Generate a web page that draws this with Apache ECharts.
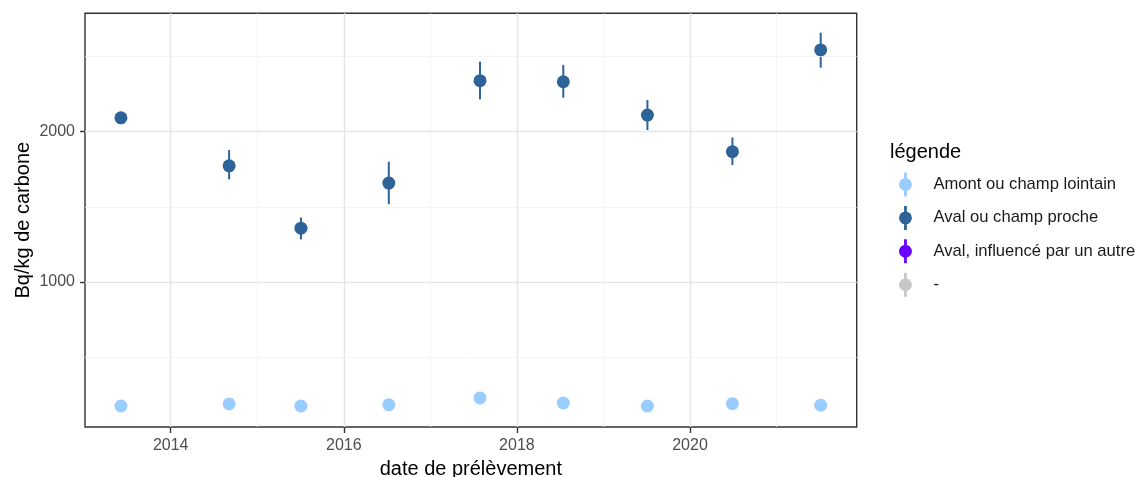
<!DOCTYPE html>
<html>
<head>
<meta charset="utf-8">
<script src="https://cdn.jsdelivr.net/npm/echarts@6/dist/echarts.min.js"></script>
<style>
html,body{margin:0;padding:0;background:#fff;}
#chart{width:1145px;height:477px;}
</style>
</head>
<body>
<div id="chart"></div>
<script>
// ---- data ----
const seriesNames = ['Amont ou champ lointain', 'Aval ou champ proche', 'Aval, influencé par un autre', '-'];
const seriesColors = ['#99ccff', '#2e6399', '#6600ff', '#c8c8c8'];
const sampleDates = [2013.425, 2014.675, 2015.505, 2016.52, 2017.574, 2018.536, 2019.508, 2020.49, 2021.51];
const amontValues = [173, 187, 173, 182, 227, 193, 173, 189, 178];
const avalValues  = [2093, 1773, 1358, 1658, 2340, 2333, 2111, 1867, 2545];
const avalLow     = [2063, 1683, 1283, 1518, 2216, 2227, 2011, 1778, 2427];
const avalHigh    = [2123, 1878, 1429, 1800, 2467, 2445, 2211, 1962, 2660];
const xMajorTicks = [2014, 2016, 2018, 2020];
const xMinorTicks = [2015, 2017, 2019, 2021];
const yMajorTicks = [1000, 2000];
const yMinorTicks = [500, 1500, 2500];

const FONT = '"Liberation Sans", Arial, sans-serif';
const keyIcon = 'path://M5.5,0 h3 v26 h-3 Z M0,13 a7,7 0 1,1 14,0 a7,7 0 1,1 -14,0 Z';

const amontData = sampleDates.map((d, i) => [d, amontValues[i]]);
const avalData = sampleDates.map((d, i) => [d, avalValues[i]]);
const avalErr = sampleDates.map((d, i) => [d, avalLow[i], avalHigh[i]]);

const majorLine = {color: '#e6e6e6', width: 1.4, type: 'solid'};
const minorLine = {color: '#f1f1f1', width: 0.8, type: 'solid'};
const gridLines = []
  .concat(xMinorTicks.map(v => ({xAxis: v, lineStyle: minorLine})))
  .concat(yMinorTicks.map(v => ({yAxis: v, lineStyle: minorLine})))
  .concat(xMajorTicks.map(v => ({xAxis: v, lineStyle: majorLine})))
  .concat(yMajorTicks.map(v => ({yAxis: v, lineStyle: majorLine})));

const chart = echarts.init(document.getElementById('chart'), null, {renderer: 'canvas'});
chart.setOption({
  animation: false,
  backgroundColor: '#ffffff',
  textStyle: {fontFamily: FONT},
  title: {
    text: 'légende', left: 885, top: 137,
    textStyle: {fontFamily: FONT, fontSize: 20, fontWeight: 'normal', color: '#000000'}
  },
  legend: {
    orient: 'vertical', left: 894, top: 167.5,
    itemWidth: 46, itemHeight: 24, itemGap: 9.4,
    selectedMode: false,
    textStyle: {fontFamily: FONT, fontSize: 16.6, color: '#1a1a1a'},
    data: seriesNames.map(n => ({name: n, icon: keyIcon}))
  },
  grid: {
    left: 85, top: 13.3, right: 288.3, bottom: 50,
    outerBoundsMode: 'none', containLabel: false,
    show: true, borderColor: '#333333', borderWidth: 1.4, backgroundColor: '#ffffff'
  },
  xAxis: {
    type: 'value', min: 2013.01, max: 2021.926,
    name: 'date de prélèvement', nameLocation: 'middle', nameGap: 32, nameMoveOverlap: false,
    nameTextStyle: {fontFamily: FONT, fontSize: 20, color: '#000000'},
    axisLine: {show: false},
    splitLine: {show: false},
    axisTick: {show: true, customValues: xMajorTicks, length: 6, lineStyle: {color: '#333333', width: 1.4}},
    axisLabel: {customValues: xMajorTicks, margin: 11, fontSize: 16, color: '#4d4d4d', fontFamily: FONT,
                formatter: v => String(Math.round(v))}
  },
  yAxis: {
    type: 'value', min: 33.3, max: 2789,
    name: 'Bq/kg de carbone', nameLocation: 'middle', nameGap: 52, nameRotate: 90, nameMoveOverlap: false,
    nameTextStyle: {fontFamily: FONT, fontSize: 20, color: '#000000'},
    axisLine: {show: false},
    splitLine: {show: false},
    axisTick: {show: true, customValues: yMajorTicks, length: 5, lineStyle: {color: '#333333', width: 1.4}},
    axisLabel: {customValues: yMajorTicks, margin: 10, fontSize: 16, color: '#4d4d4d', fontFamily: FONT,
                formatter: v => String(Math.round(v))}
  },
  series: [
    {
      name: 'grid', type: 'scatter', data: [], z: 1, silent: true,
      markLine: {silent: true, symbol: ['none', 'none'], label: {show: false},
                 emphasis: {disabled: true}, data: gridLines}
    },
    {
      name: 'err', type: 'custom', z: 2, silent: true,
      data: avalErr,
      encode: {x: 0, y: [1, 2]},
      renderItem: function (params, api) {
        const p1 = api.coord([api.value(0), api.value(1)]);
        const p2 = api.coord([api.value(0), api.value(2)]);
        return {type: 'line', shape: {x1: p1[0], y1: p1[1], x2: p2[0], y2: p2[1]},
                style: {stroke: seriesColors[1], lineWidth: 2}};
      }
    },
    {name: seriesNames[0], type: 'scatter', z: 3, symbol: 'circle', symbolSize: 13,
     itemStyle: {color: seriesColors[0], opacity: 1}, data: amontData},
    {name: seriesNames[1], type: 'scatter', z: 3, symbol: 'circle', symbolSize: 13,
     itemStyle: {color: seriesColors[1], opacity: 1}, data: avalData},
    {name: seriesNames[2], type: 'scatter', z: 3, symbolSize: 13,
     itemStyle: {color: seriesColors[2], opacity: 1}, data: []},
    {name: seriesNames[3], type: 'scatter', z: 3, symbolSize: 13,
     itemStyle: {color: seriesColors[3], opacity: 1}, data: []}
  ]
});
</script>
</body>
</html>
